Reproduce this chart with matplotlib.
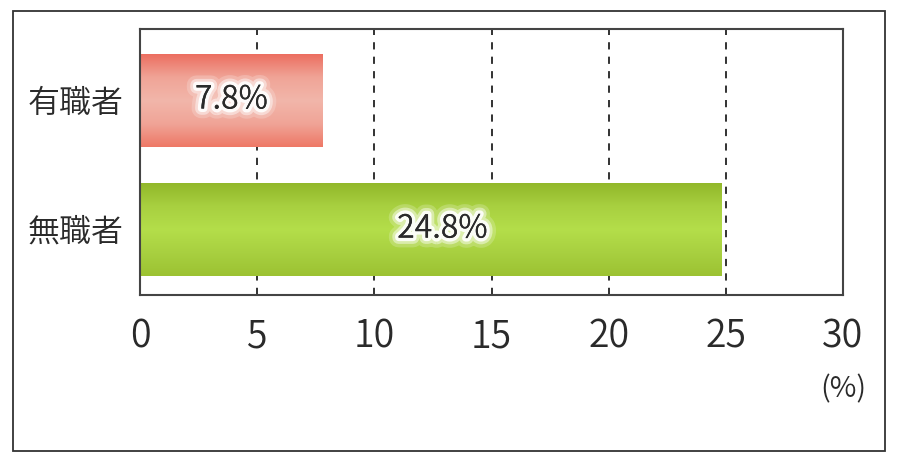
import matplotlib
matplotlib.use("Agg")
import matplotlib.pyplot as plt
import matplotlib.patheffects as pe
from matplotlib.colors import LinearSegmentedColormap
from matplotlib.patches import Rectangle
import numpy as np

categories = ["有職者", "無職者"]
values = [7.8, 24.8]
value_labels = ["7.8%", "24.8%"]
xticks = [0, 5, 10, 15, 20, 25, 30]
unit_label = "(%)"

plt.rcParams['font.family'] = ['Noto Sans CJK JP', 'DejaVu Sans']
plt.rcParams['font.weight'] = 350

fig = plt.figure(figsize=(9, 4.62), dpi=100)
fig.patch.set_facecolor("white")
# outer frame
fig.add_artist(Rectangle((13/900, 11/462), 872/900, 440/462, transform=fig.transFigure,
                         fill=False, edgecolor="#333333", linewidth=1.3))

ax = fig.add_axes([140/900, 167/462, 703/900, 266/462])

grad_colors = [
    ["#ec6e60", "#f0a497", "#f2b6aa", "#f0a497", "#ee7866"],
    ["#92b82a", "#a8d040", "#b4de4a", "#a8d040", "#9cc232"],
]
bar_h = 0.72
ypos = np.arange(len(categories))
for i, (v, cols) in enumerate(zip(values, grad_colors)):
    cmap = LinearSegmentedColormap.from_list(f"g{i}", cols[::-1])
    grad = np.linspace(0, 1, 256).reshape(-1, 1)
    ax.imshow(grad, cmap=cmap, aspect="auto", origin="lower",
              extent=[0, v, ypos[i] + bar_h/2, ypos[i] - bar_h/2], zorder=2,
              interpolation="bilinear")
    ax.text(v/2 if i == 0 else v/2 + 0.5, ypos[i], value_labels[i], ha="center", va="center",
            fontsize=23, color="#2a2a2a", zorder=4,
            path_effects=[pe.withStroke(linewidth=14, foreground=(1, 1, 1, 0.2)),
                          pe.withStroke(linewidth=9, foreground=(1, 1, 1, 0.45)),
                          pe.withStroke(linewidth=5, foreground=(1, 1, 1, 0.9)),
                          pe.Normal()])

ax.set_xlim(0, 30)
ax.set_ylim(1.51, -0.55)
ax.set_yticks(ypos)
ax.set_yticklabels(categories, fontsize=23, color="#2a2a2a")
ax.set_xticks(xticks)
ax.set_xticklabels([str(t) for t in xticks], fontsize=27, color="#2a2a2a")
ax.tick_params(axis="both", length=0)
ax.tick_params(axis="x", pad=16)
ax.tick_params(axis="y", pad=12)

for x in xticks[1:-1]:
    ax.axvline(x, color="#222222", linewidth=1.3, linestyle=(0, (4, 4)), zorder=1)

for s in ax.spines.values():
    s.set_color("#444444")
    s.set_linewidth(1.5)

fig.text(843/900, 1 - 389/462, unit_label, ha="center", va="center", fontsize=21, color="#2a2a2a")

fig.savefig("out.png", dpi=100, facecolor="white")
